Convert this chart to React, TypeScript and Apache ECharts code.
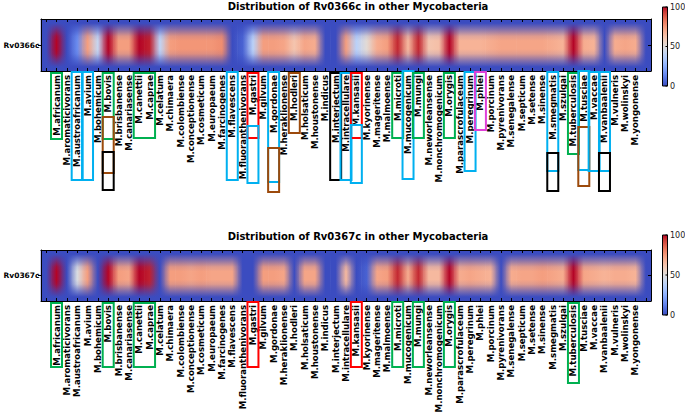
import React, { useEffect, useRef } from "react";
import * as echarts from "echarts";

// ---------- data ----------
const species = [
  "M.africanum", "M.aromaticivorans", "M.austroafricanum", "M.avium", "M.bohemicum",
  "M.bovis", "M.brisbanense", "M.canariasense", "M.canettii", "M.caprae",
  "M.celatum", "M.chimaera", "M.colombiense", "M.conceptionense", "M.cosmeticum",
  "M.europaeum", "M.farcinogenes", "M.flavescens", "M.fluoranthenivorans", "M.gastri",
  "M.gilvum", "M.gordonae", "M.heraklionense", "M.hodleri", "M.holsaticum",
  "M.houstonense", "M.indicus", "M.interjectum", "M.intracellulare", "M.kansasii",
  "M.kyorinense", "M.mageritense", "M.malmoense", "M.microti", "M.mucogenicum",
  "M.mungi", "M.neworleansense", "M.nonchromogenicum", "M.orygis", "M.parascrofulaceum",
  "M.peregrinum", "M.phlei", "M.porcinum", "M.pyrenivorans", "M.senegalense",
  "M.septicum", "M.setense", "M.sinense", "M.smegmatis", "M.szulgai",
  "M.tuberculosis", "M.tusciae", "M.vaccae", "M.vanbaalenii", "M.vulneris",
  "M.wolinskyi", "M.yongonense",
];

const rv0366c = [
  100, 0, 15, 74, 42,
  100, 74, 74, 100, 97,
  40, 74, 76, 76, 76,
  76, 78, 0, 5, 38,
  74, 74, 72, 62, 72,
  70, 0, 0, 74, 38,
  52, 70, 74, 96, 66,
  96, 62, 64, 100, 68,
  68, 68, 70, 72, 72,
  72, 72, 72, 70, 68,
  100, 70, 68, 0, 70,
  72, 70,
];

const rv0367c = [
  100, 0, 48, 74, 0,
  100, 74, 72, 100, 97,
  0, 74, 74, 72, 74,
  72, 72, 72, 0, 0,
  74, 74, 72, 0, 72,
  72, 0, 0, 66, 0,
  5, 72, 74, 96, 70,
  96, 66, 66, 100, 70,
  72, 70, 68, 0, 70,
  72, 72, 74, 72, 70,
  100, 72, 70, 68, 70,
  70, 68,
];

const genes = ["Rv0366c", "Rv0367c"];
const colorbarTicks = [100, 50, 0];

// annotation boxes: [from, to, colour key, top offset, bottom offset] (offsets below the axis)
type Box = [string, string, string, number, number];
const boxesRv0366c: Box[] = [
  ["M.africanum", "M.africanum", "green", 2, 68],
  ["M.austroafricanum", "M.austroafricanum", "cyan", 1, 109],
  ["M.avium", "M.avium", "cyan", 1, 109],
  ["M.bovis", "M.bovis", "green", 2, 68],
  ["M.bovis", "M.bovis", "brown", 46, 102],
  ["M.bovis", "M.bovis", "black", 81, 119],
  ["M.canettii", "M.caprae", "green", 2, 67],
  ["M.flavescens", "M.flavescens", "cyan", 1, 109],
  ["M.gastri", "M.gastri", "red", 2, 67],
  ["M.gastri", "M.gastri", "cyan", 55, 112],
  ["M.gordonae", "M.gordonae", "cyan", 1, 111],
  ["M.gordonae", "M.gordonae", "brown", 77, 121],
  ["M.hodleri", "M.hodleri", "brown", 2, 62],
  ["M.interjectum", "M.interjectum", "black", 2, 109],
  ["M.intracellulare", "M.intracellulare", "cyan", 2, 109],
  ["M.kansasii", "M.kansasii", "red", 2, 67],
  ["M.kansasii", "M.kansasii", "cyan", 54, 112],
  ["M.microti", "M.microti", "green", 2, 67],
  ["M.mucogenicum", "M.mucogenicum", "cyan", 0, 108],
  ["M.mungi", "M.mungi", "green", 2, 67],
  ["M.orygis", "M.orygis", "green", 2, 67],
  ["M.peregrinum", "M.peregrinum", "cyan", 1, 100],
  ["M.phlei", "M.phlei", "magenta", 1, 59],
  ["M.smegmatis", "M.smegmatis", "cyan", 1, 100],
  ["M.smegmatis", "M.smegmatis", "black", 82, 120],
  ["M.tuberculosis", "M.tuberculosis", "green", 2, 83],
  ["M.tusciae", "M.tusciae", "cyan", 0, 99],
  ["M.tusciae", "M.tusciae", "brown", 56, 115],
  ["M.vaccae", "M.vaccae", "cyan", 1, 100],
  ["M.vanbaalenii", "M.vanbaalenii", "cyan", 1, 100],
  ["M.vanbaalenii", "M.vanbaalenii", "black", 82, 120],
];
const boxesRv0367c: Box[] = [
  ["M.africanum", "M.africanum", "green", 2, 66],
  ["M.bovis", "M.bovis", "green", 2, 66],
  ["M.canettii", "M.caprae", "green", 2, 66],
  ["M.gastri", "M.gastri", "red", 1, 66],
  ["M.kansasii", "M.kansasii", "red", 1, 66],
  ["M.microti", "M.microti", "green", 1, 66],
  ["M.mungi", "M.mungi", "green", 1, 66],
  ["M.orygis", "M.orygis", "green", 1, 66],
  ["M.tuberculosis", "M.tuberculosis", "green", 2, 82],
];

// ---------- style ----------
const BOX_COLORS: Record<string, string> = {
  green: "#00b050",
  cyan: "#00b0f0",
  red: "#ff0000",
  brown: "#9c4a0c",
  black: "#000000",
  magenta: "#e040d8",
};

// matplotlib coolwarm, 17 stops
const COOLWARM = [
  [59, 76, 192], [77, 104, 215], [98, 130, 234], [119, 154, 247], [141, 176, 254],
  [163, 194, 255], [184, 208, 249], [204, 217, 238], [221, 221, 221], [236, 211, 197],
  [245, 196, 173], [247, 177, 148], [244, 154, 123], [236, 127, 99], [222, 96, 77],
  [203, 62, 56], [180, 4, 38],
];
function cw(v: number): number[] {
  const t = Math.max(0, Math.min(1, v / 100)) * (COOLWARM.length - 1);
  const i = Math.min(COOLWARM.length - 2, Math.floor(t));
  const f = t - i;
  const a = COOLWARM[i], b = COOLWARM[i + 1];
  return [0, 1, 2].map((k) => a[k] + (b[k] - a[k]) * f);
}
function mix(a: number[], b: number[], t: number) {
  return [0, 1, 2].map((k) => a[k] + (b[k] - a[k]) * t);
}
function rgb(c: number[], a = 1) {
  return `rgba(${Math.round(c[0])},${Math.round(c[1])},${Math.round(c[2])},${a})`;
}

const FONT = "DejaVu Sans";
const GRID_LEFT = 41;
const GRID_WIDTH = 610;
const PANELS = [
  { top: 19, height: 52, titleY: 6, cbTop: 7, cbHeight: 79 },
  { top: 250, height: 51, titleY: 236, cbTop: 235, cbHeight: 80 },
];
const CB_X = 662.5;
const CB_W = 5;

function makeRender(padded: number[]) {
  return (params: any, api: any) => {
    const i = api.value(0);
    const c = api.coord([i, 0]);
    const w = api.size([1, 1])[0];
    const cs = params.coordSys;
    const cc = cw(padded[i]);
    const cp = cw(i > 0 ? padded[i - 1] : 0);
    const cn = cw(i < padded.length - 1 ? padded[i + 1] : 0);
    const children: any[] = [
      {
        type: "rect",
        shape: { x: c[0] - w / 2 - 0.3, y: cs.y, width: w + 0.6, height: cs.height },
        style: {
          fill: {
            type: "linear", x: 0, y: 0, x2: 1, y2: 0,
            colorStops: [
              { offset: 0, color: rgb(mix(cp, cc, 0.5)) },
              { offset: 0.5, color: rgb(cc) },
              { offset: 1, color: rgb(mix(cc, cn, 0.5)) },
            ],
          },
        },
        z2: 1,
      },
    ];
    if (i === padded.length - 1) {
      const b = COOLWARM[0];
      children.push({
        type: "rect",
        shape: { x: cs.x, y: cs.y, width: cs.width, height: cs.height },
        style: {
          fill: {
            type: "linear", x: 0, y: 0, x2: 0, y2: 1,
            colorStops: [
              { offset: 0, color: rgb(b, 1) },
              { offset: 0.08, color: rgb(b, 1) },
              { offset: 0.2, color: rgb(b, 0.6) },
              { offset: 0.33, color: rgb(b, 0.12) },
              { offset: 0.42, color: rgb(b, 0) },
              { offset: 0.58, color: rgb(b, 0) },
              { offset: 0.67, color: rgb(b, 0.12) },
              { offset: 0.8, color: rgb(b, 0.6) },
              { offset: 0.92, color: rgb(b, 1) },
              { offset: 1, color: rgb(b, 1) },
            ],
          },
        },
        z2: 5,
      });
    }
    return { type: "group", children };
  };
}

export default function App() {
  const ref = useRef<HTMLDivElement>(null);
  useEffect(() => {
    if (!ref.current) return;
    const chart = echarts.init(ref.current, undefined, { renderer: "svg" });
    const cats = [" ", ...species, "  "];
    const datasets = [rv0366c, rv0367c];

    const grids: any[] = [];
    const xAxes: any[] = [];
    const yAxes: any[] = [];
    const series: any[] = [];
    PANELS.forEach((p, g) => {
      grids.push({
        left: GRID_LEFT, width: GRID_WIDTH, top: p.top, height: p.height,
        containLabel: false, outerBoundsMode: "none",
      });
      const axisLine = { show: true, lineStyle: { color: "#000", width: 1 } };
      xAxes.push({
        type: "category", gridIndex: g, position: "bottom", data: cats, z: 10,
        axisLine,
        axisTick: { show: true, inside: true, length: 3, alignWithLabel: true, interval: 0, lineStyle: { color: "#000" } },
        axisLabel: { show: true, interval: 0, rotate: 90, margin: 4, fontSize: 8.6, fontWeight: "bold", fontFamily: FONT, color: "#000" },
        splitLine: { show: false },
      });
      xAxes.push({
        type: "category", gridIndex: g, position: "top", data: cats, z: 10,
        axisLine,
        axisTick: { show: true, inside: true, length: 3, alignWithLabel: true, interval: 0, lineStyle: { color: "#000" } },
        axisLabel: { show: false },
        splitLine: { show: false },
      });
      yAxes.push({
        type: "category", gridIndex: g, position: "left", data: [genes[g]], z: 10,
        axisLine,
        axisTick: { show: true, inside: false, length: 3, alignWithLabel: true, lineStyle: { color: "#000" } },
        axisLabel: { show: true, margin: 1.5, fontSize: 7.5, fontWeight: "bold", fontFamily: FONT, color: "#000" },
        splitLine: { show: false },
      });
      yAxes.push({
        type: "category", gridIndex: g, position: "right", data: [genes[g]], z: 10,
        axisLine,
        axisTick: { show: true, inside: true, length: 3, alignWithLabel: true, lineStyle: { color: "#000" } },
        axisLabel: { show: false },
        splitLine: { show: false },
      });
      const padded = [0, ...datasets[g], 0];
      series.push({
        type: "custom",
        xAxisIndex: g * 2,
        yAxisIndex: g * 2,
        z: 1,
        renderItem: makeRender(padded),
        encode: { x: 0, y: 1 },
        data: padded.map((v, i) => [i, 0, v]),
        silent: true,
      });
    });

    const graphics: any[] = [];
    PANELS.forEach((p, g) => {
      graphics.push({
        type: "text", x: 358, y: p.titleY, z: 20,
        style: {
          text: `Distribution of ${genes[g]} in other Mycobacteria`,
          fontSize: 10, fontWeight: "bold", fontFamily: FONT, fill: "#000",
          textAlign: "center", textVerticalAlign: "middle", align: "center", verticalAlign: "middle",
        },
      });
      const stops = COOLWARM.map((c, k) => ({ offset: 1 - k / (COOLWARM.length - 1), color: rgb(c) })).reverse();
      graphics.push({
        type: "rect", z: 20,
        shape: { x: CB_X, y: p.cbTop, width: CB_W, height: p.cbHeight },
        style: { fill: { type: "linear", x: 0, y: 0, x2: 0, y2: 1, colorStops: stops }, stroke: "#000", lineWidth: 1 },
      });
      colorbarTicks.forEach((t) => {
        const y = p.cbTop + p.cbHeight * (1 - t / 100);
        graphics.push({
          type: "line", z: 21,
          shape: { x1: CB_X + CB_W - 2, y1: y, x2: CB_X + CB_W, y2: y },
          style: { stroke: "#000", lineWidth: 1 },
        });
        graphics.push({
          type: "text", x: CB_X + CB_W + 2.5, y, z: 21,
          style: {
            text: String(t), fontSize: 8, fontFamily: FONT, fill: "#222",
            textAlign: "left", textVerticalAlign: "middle", align: "left", verticalAlign: "middle",
          },
        });
      });
    });

    chart.setOption({
      animation: false,
      backgroundColor: "#fff",
      grid: grids,
      xAxis: xAxes,
      yAxis: yAxes,
      series,
      graphic: graphics,
    });

    // annotation boxes around labels
    const boxSets = [boxesRv0366c, boxesRv0367c];
    const boxGraphics: any[] = [];
    PANELS.forEach((p, g) => {
      const axisBottom = p.top + p.height;
      boxSets[g].forEach(([from, to, col, y0, y1]) => {
        const xa = chart.convertToPixel({ xAxisIndex: g * 2 }, from) as unknown as number;
        const xb = chart.convertToPixel({ xAxisIndex: g * 2 }, to) as unknown as number;
        boxGraphics.push({
          type: "rect", z: 30,
          shape: { x: xa - 5.5, y: axisBottom + y0, width: xb - xa + 11, height: y1 - y0 },
          style: { fill: "none", stroke: BOX_COLORS[col], lineWidth: 2 },
        });
      });
    });
    chart.setOption({ graphic: [...graphics, ...boxGraphics] });

    return () => chart.dispose();
  }, []);
  return (
    <div
      ref={ref}
      style={{ position: "absolute", left: 0, top: 0, width: 685, height: 412, background: "#fff" }}
    />
  );
}
